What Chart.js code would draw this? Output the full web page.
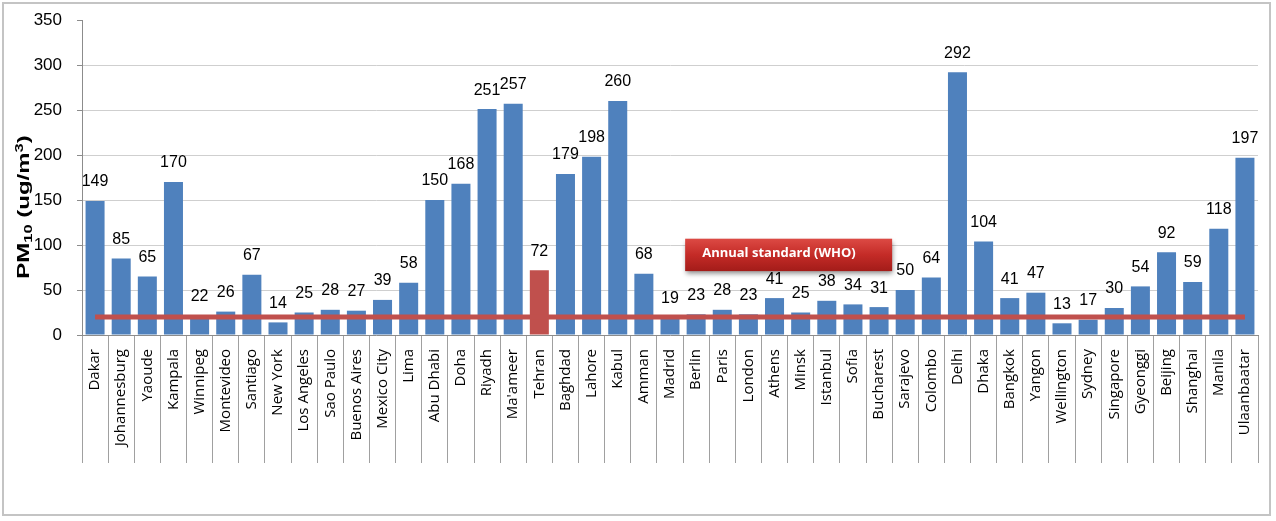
<!DOCTYPE html>
<html>
<head>
<meta charset="utf-8">
<script src="https://cdn.jsdelivr.net/npm/chart.js@4.4.1/dist/chart.umd.min.js"></script>
<style>
html,body{margin:0;padding:0;background:#fff;}
#wrap{position:relative;width:1276px;height:521px;}
</style>
</head>
<body>
<div id="wrap"><canvas id="c" width="1276" height="521"></canvas></div>
<script>
const cities = ["Dakar","Johannesburg","Yaoude","Kampala","Winnipeg","Montevideo","Santiago","New York","Los Angeles","Sao Paulo","Buenos Aires","Mexico City","Lima","Abu Dhabi","Doha","Riyadh","Ma'ameer","Tehran","Baghdad","Lahore","Kabul","Amman","Madrid","Berlin","Paris","London","Athens","Minsk","Istanbul","Sofia","Bucharest","Sarajevo","Colombo","Delhi","Dhaka","Bangkok","Yangon","Wellington","Sydney","Singapore","Gyeonggi","Beijing","Shanghai","Manila","Ulaanbaatar"];
const pm10 = [149,85,65,170,22,26,67,14,25,28,27,39,58,150,168,251,257,72,179,198,260,68,19,23,28,23,41,25,38,34,31,50,64,292,104,41,47,13,17,30,54,92,59,118,197];
const whoStandard = cities.map(() => 20);
const highlightCity = "Tehran";
const yTicks = [0,50,100,150,200,250,300,350];
const annotationText = "Annual standard (WHO)";
// y-axis title pieces: [text, style] where style is normal / sub / sup
const yTitleParts = [["PM","n"],["10","sub"],[" (ug/m","n"],["3","sup"],[")","n"]];

const BLUE = "#4F81BD", RED = "#C0504D";

const frame = {
  id: "frame",
  beforeDraw(chart) {
    const ctx = chart.ctx;
    ctx.save();
    ctx.fillStyle = "#fff";
    ctx.fillRect(0, 0, chart.width, chart.height);
    ctx.strokeStyle = "#c4c4c4";
    ctx.lineWidth = 2;
    ctx.strokeRect(3, 3, 1267, 512);
    ctx.restore();
  }
};

const yTitle = {
  id: "yTitle",
  afterDraw(chart) {
    const ctx = chart.ctx;
    const big = "bold 16px 'Liberation Sans', Arial, sans-serif";
    const small = "bold 11px 'Liberation Sans', Arial, sans-serif";
    ctx.save();
    let total = 0;
    yTitleParts.forEach(([t, s]) => { ctx.font = s === "n" ? big : small; total += ctx.measureText(t).width; });
    const stretch = 1.5;
    ctx.translate(25, 207);
    ctx.rotate(-Math.PI / 2);
    ctx.scale(stretch, 1);
    ctx.fillStyle = "#000";
    ctx.textBaseline = "middle";
    ctx.textAlign = "left";
    let x = -total / 2;
    yTitleParts.forEach(([t, s]) => {
      ctx.font = s === "n" ? big : small;
      const dy = s === "sub" ? 4 : (s === "sup" ? -5 : 0);
      ctx.fillText(t, x, dy);
      x += ctx.measureText(t).width;
    });
    ctx.restore();
  }
};

const valueLabels = {
  id: "valueLabels",
  afterDatasetsDraw(chart) {
    const ctx = chart.ctx;
    const meta = chart.getDatasetMeta(1);
    ctx.save();
    ctx.font = "16px 'Liberation Sans', Arial, sans-serif";
    ctx.fillStyle = "#000";
    ctx.textAlign = "center";
    ctx.textBaseline = "bottom";
    meta.data.forEach((bar, i) => {
      ctx.fillText(String(pm10[i]), bar.x, bar.y - 11);
    });
    ctx.restore();
  }
};

const whoBox = {
  id: "whoBox",
  afterDraw(chart) {
    const x = chart.scales.x, y = chart.scales.y;
    const l = x.getPixelForValue(22.58), r = x.getPixelForValue(30.5);
    const t = y.getPixelForValue(107), b = y.getPixelForValue(71);
    const ctx = chart.ctx;
    ctx.save();
    ctx.shadowColor = "rgba(0,0,0,0.45)";
    ctx.shadowBlur = 5;
    ctx.shadowOffsetX = 1;
    ctx.shadowOffsetY = 3;
    const g = ctx.createLinearGradient(0, t, 0, b);
    g.addColorStop(0, "#dc4a44");
    g.addColorStop(0.5, "#c42b27");
    g.addColorStop(1, "#a31c19");
    ctx.fillStyle = g;
    ctx.fillRect(l, t, r - l, b - t);
    ctx.shadowColor = "transparent";
    ctx.fillStyle = "#fff";
    ctx.font = "bold 13px 'Open Sans', sans-serif";
    ctx.textAlign = "left";
    ctx.textBaseline = "middle";
    ctx.fillText(annotationText, l + 17, t + (b - t) / 2 - 2);
    ctx.restore();
  }
};

new Chart(document.getElementById("c"), {
  data: {
    labels: cities,
    datasets: [
      {
        type: "line",
        label: "WHO",
        data: whoStandard,
        borderColor: RED,
        borderWidth: 5,
        pointRadius: 0,
        order: 0
      },
      {
        type: "bar",
        label: "PM10",
        data: pm10,
        backgroundColor: cities.map(c => c === highlightCity ? RED : BLUE),
        categoryPercentage: 0.75,
        barPercentage: 0.97,
        order: 1
      }
    ]
  },
  options: {
    responsive: false,
    animation: false,
    devicePixelRatio: 1,
    layout: { padding: { left: 0, top: 20, right: 18, bottom: 0 } },
    plugins: { legend: { display: false }, tooltip: { enabled: false } },
    scales: {
      x: {
        offset: true,
        afterFit(s) { s.height = 186; },
        grid: {
          offset: true,
          drawOnChartArea: false,
          tickLength: 128,
          color: "#a0a0a0",
          lineWidth: 1
        },
        border: { color: "#8c8c8c", width: 1 },
        ticks: {
          autoSkip: false,
          maxRotation: 90,
          minRotation: 90,
          padding: -114,
          color: "#000",
          font: { family: "'Open Sans', sans-serif", size: 15 }
        }
      },
      y: {
        min: 0,
        max: 350,
        afterFit(s) { s.width = 82; s.paddingTop = 10; s.paddingBottom = 0; },
        afterBuildTicks(s) { s.ticks = yTicks.map(v => ({ value: v })); },
        grid: {
          color: ctx => (ctx.tick && (ctx.tick.value === 0 || ctx.tick.value === 350)) ? "rgba(0,0,0,0)" : "#cfcfcf",
          borderDash: [3, 3],
          tickLength: 5,
          tickColor: "#8c8c8c",
          tickBorderDash: []
        },
        border: { color: "#8c8c8c", width: 1 },
        ticks: {
          padding: 15,
          color: "#000",
          font: { family: "'Liberation Sans', Arial, sans-serif", size: 17 }
        },
        title: { display: false }
      }
    }
  },
  plugins: [frame, valueLabels, whoBox, yTitle]
});
</script>
</body>
</html>
